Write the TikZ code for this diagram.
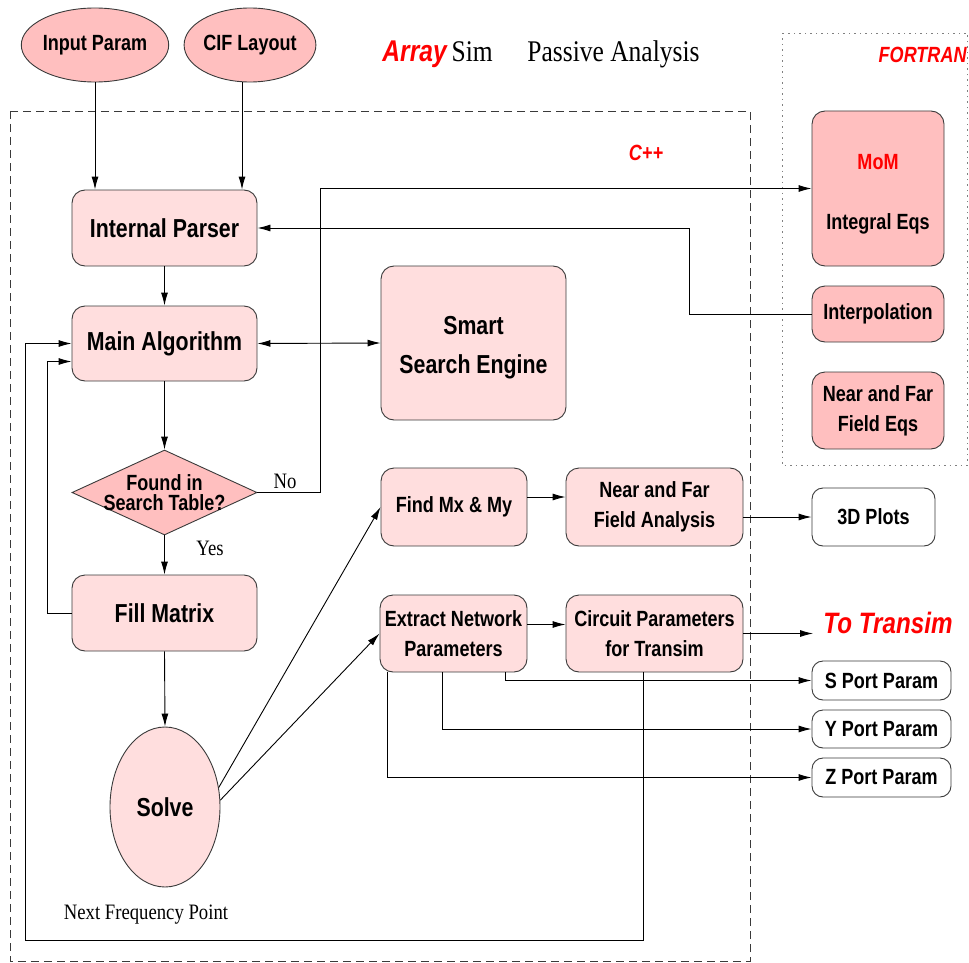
\documentclass[tikz,border=0pt]{standalone}
\usepackage{fontspec}
\newfontfamily\hv[FakeStretch=0.82]{Liberation Sans}
\newfontfamily\tm[FakeStretch=0.85]{Liberation Serif}
\usepackage{xcolor}
\usepackage{tikz}
\usetikzlibrary{shapes,arrows.meta,positioning,calc}
\definecolor{lpink}{HTML}{FFDEDE}
\definecolor{dpink}{HTML}{FFBFBF}
\definecolor{edge}{HTML}{3A3A3A}
\newcommand\bigsf{\hv\bfseries\fontsize{26}{30}\selectfont}
\newcommand\midsf{\hv\bfseries\fontsize{22}{30}\selectfont}
\newcommand\rmtxt{\tm\fontsize{22}{26}\selectfont}

\begin{document}
\begin{tikzpicture}[x=1pt,y=-1pt,line width=0.9pt,
    >={Latex[length=13pt,width=7pt]},
    block/.style={draw=edge,fill=lpink,rounded corners=13pt,inner sep=0pt,align=center},
    fblock/.style={block,fill=dpink,font=\midsf},
    oblock/.style={block,fill=white,rounded corners=11pt,font=\midsf},
    oval/.style={ellipse,draw=edge,fill=dpink,inner sep=0pt,font=\midsf},
    decision/.style={diamond,draw=edge,fill=dpink,inner sep=0pt},
    lang/.style={text=red,font=\hv\bfseries\itshape\fontsize{22}{26}\selectfont,inner sep=0pt}]
  \useasboundingbox (0,0) rectangle (969,963);

  % language frames
  \draw[edge,dash pattern=on 8pt off 5pt] (10,111) rectangle (750,961);
  \draw[gray,dash pattern=on 1.5pt off 4pt] (782,33) rectangle (967,465);
  \node[lang] (cpp) at (646,153) {C++};
  \node[lang,anchor=east] (fortran) at (967,55) {FORTRAN};

  % title
  \node[anchor=base west,inner sep=0pt,font=\tm\fontsize{30}{34}\selectfont] (title) at (382,62)
    {{\color{red}\hv\bfseries\itshape Array}\,Sim};
  \node[anchor=base west,inner sep=0pt,font=\tm\fontsize{30}{34}\selectfont] (passive) at (527,62)
    {Passive Analysis};

  % inputs
  \node[oval,minimum width=124pt,minimum height=74pt] (input) at (95,45) {Input Param};
  \node[oval,minimum width=124pt,minimum height=74pt] (cif) at (250,45) {CIF Layout};

  % C++ part
  \node[block,font=\bigsf,minimum width=185pt,minimum height=76pt] (parser) at (164.5,228) {Internal Parser};
  \node[block,font=\bigsf,minimum width=185pt,minimum height=75pt] (mainalg) at (164.5,343.5) {Main Algorithm};
  \node[block,font=\bigsf,minimum width=185pt,minimum height=154pt] (search) at (473.5,343) {\rule{0pt}{27pt}Smart\\[9pt]Search Engine};
  \node[decision,minimum width=185pt,minimum height=85pt] (found) at (164.5,492.5) {};
  \node[font=\hv\bfseries\fontsize{22}{20}\selectfont,align=center,inner sep=0pt] (foundtxt) at (found) {Found in\\Search Table?};
  \node[block,font=\bigsf,minimum width=185pt,minimum height=76pt] (fill) at (164.5,613) {Fill Matrix};
  \node[ellipse,draw=edge,fill=lpink,inner sep=0pt,font=\bigsf,minimum width=110pt,minimum height=160pt] (solve) at (165,807) {Solve};
  \node[block,font=\midsf,minimum width=146pt,minimum height=78pt] (findm) at (454,507) {Find Mx \& My};
  \node[block,font=\midsf,minimum width=177pt,minimum height=78pt] (nearfar) at (654.5,507) {Near and Far\\Field Analysis};
  \node[block,font=\midsf,minimum width=147pt,minimum height=77pt] (extract) at (453.5,633.5) {Extract Network\\Parameters};
  \node[block,font=\midsf,minimum width=177pt,minimum height=77pt] (circuit) at (654.5,633.5) {Circuit Parameters\\for Transim};

  % FORTRAN part
  \node[fblock,minimum width=132pt,minimum height=155pt] (mom) at (878,188.5) {\rule{0pt}{26pt}{\color{red}MoM}\\[30pt]Integral Eqs};
  \node[fblock,minimum width=132pt,minimum height=56pt] (interp) at (878,314) {Interpolation};
  \node[fblock,minimum width=132pt,minimum height=77pt] (nfeqs) at (878,410.5) {Near and Far\\Field Eqs};

  % outputs
  \node[oblock,minimum width=123pt,minimum height=58pt] (plots) at (873.5,517) {3D Plots};
  \node[text=red,font=\hv\bfseries\itshape\fontsize{29.5}{32}\selectfont,inner xsep=10pt,inner ysep=0pt] (transim) at (888,623) {To Transim};
  \node[oblock,minimum width=139pt,minimum height=39pt] (sport) at (881.5,680.5) {S Port Param};
  \node[oblock,minimum width=139pt,minimum height=38pt] (yport) at (881.5,729) {Y Port Param};
  \node[oblock,minimum width=139pt,minimum height=39pt] (zport) at (881.5,777.5) {Z Port Param};

  % connectors
  \draw[->] (input.south) -- (input.south |- parser.north);
  \draw[->] ([xshift=-8pt]cif.south) -- ([xshift=-8pt]cif.south |- parser.north);
  \draw[->] (parser.south) -- (mainalg.north);
  \draw[<->] (mainalg.east) -- (search.west);
  \draw[->] (mainalg.south) -- (found.north);
  \draw[->] (found.east) -- ++(63,0) |- (mom.west);
  \node[font=\rmtxt,inner sep=0pt] (no) at (285,481) {No};
  \draw[->] (interp.west) -- ++(-122,0) |- (parser.east);
  \draw[->] (found.south) -- (fill.north);
  \node[font=\rmtxt,inner sep=0pt] (yes) at (210,548) {Yes};
  \draw[->] (fill.west) -- ++(-24,0) |- ([yshift=-18pt]mainalg.west);
  \draw[->] (fill.south) -- (solve.north);
  \draw[->] (solve.20) -- (findm.west);
  \draw[->] (solve.7) -- (extract.west);
  \draw[->] ([yshift=10pt]findm.east) -- ([yshift=10pt]nearfar.west);
  \draw[->] ([yshift=-10pt]nearfar.east) -- (plots.west);
  \draw[->] ([yshift=9pt]extract.east) -- ([yshift=9pt]circuit.west);
  \draw[->] (circuit.east) -- (circuit.east -| transim.west);
  \draw[->] ([xshift=-22pt]extract.south east) |- (sport.west);
  \draw[->] ([xshift=-85pt]extract.south east) |- (yport.west);
  \draw[->] ([xshift=8pt]extract.south west) |- (zport.west);

  % frequency loop
  \coordinate (loop) at (25,940);
  \draw[->] ([xshift=-11.5pt]circuit.south) |- (loop) |- (mainalg.west);
  \node[font=\rmtxt,inner sep=0pt] (nextfreq) at (146,915) {Next Frequency Point};
\end{tikzpicture}
\end{document}
